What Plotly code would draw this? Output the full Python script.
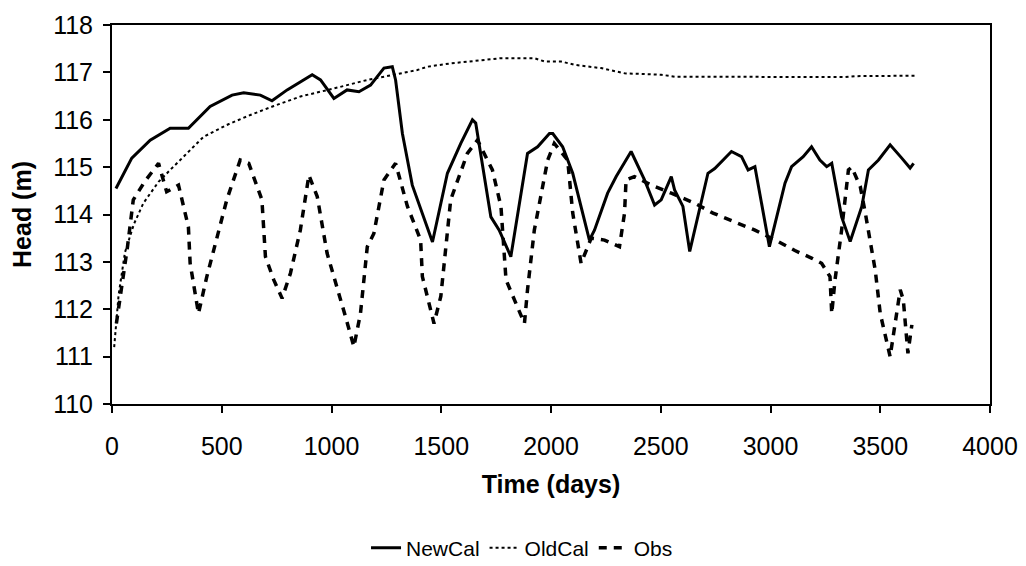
import plotly.graph_objects as go

# NewCal (solid)
new_days = [18, 90, 174, 265, 348, 447, 547, 600, 676, 729, 798, 912, 950, 1011, 1071, 1125, 1178, 1239, 1277,
            1292, 1323, 1368, 1460, 1528, 1589, 1642, 1657, 1726, 1764, 1817, 1893, 1939, 1993, 2008, 2053, 2099,
            2175, 2198, 2258, 2297, 2365, 2426, 2472, 2502, 2548, 2563, 2601, 2632, 2715, 2746, 2822, 2868, 2898,
            2929, 2995, 3066, 3096, 3149, 3187, 3225, 3256, 3279, 3324, 3363, 3416, 3446, 3492, 3545, 3598, 3636, 3652]
new_head = [114.55, 115.19, 115.57, 115.82, 115.82, 116.28, 116.52, 116.57, 116.52, 116.40, 116.63, 116.95, 116.84,
            116.45, 116.63, 116.59, 116.73, 117.09, 117.12, 116.84, 115.71, 114.62, 113.42, 114.87, 115.50, 116.00,
            115.93, 113.95, 113.67, 113.11, 115.29, 115.43, 115.71, 115.71, 115.43, 114.87, 113.46, 113.67, 114.45,
            114.80, 115.33, 114.73, 114.20, 114.31, 114.80, 114.52, 114.17, 113.22, 114.87, 114.97, 115.33, 115.22,
            114.94, 115.01, 113.32, 114.66, 115.01, 115.22, 115.43, 115.15, 115.01, 115.08, 113.95, 113.43, 114.17,
            114.94, 115.15, 115.47, 115.19, 114.98, 115.08]

# OldCal (dotted)
old_days = [10, 30, 59, 100, 143, 212, 265, 356, 417, 523, 630, 737, 858, 1011, 1163, 1285, 1391, 1437, 1543,
            1650, 1772, 1924, 1970, 2046, 2107, 2228, 2335, 2502, 2563, 3340, 3385, 3659]
old_head = [111.2, 112.3, 113.2, 113.8, 114.24, 114.69, 114.94, 115.36, 115.64, 115.89, 116.10, 116.29, 116.49,
            116.66, 116.84, 116.95, 117.05, 117.12, 117.19, 117.24, 117.30, 117.30, 117.23, 117.23, 117.16, 117.09,
            116.98, 116.95, 116.91, 116.90, 116.92, 116.93]

# Obs (dashed)
obs_days = [20, 40, 70, 97, 150, 212, 249, 303, 348, 356, 394, 432, 478, 523, 584, 623, 683, 699, 737, 775, 813,
            858, 897, 935, 980, 1026, 1064, 1102, 1132, 1163, 1193, 1239, 1292, 1346, 1406, 1414, 1467, 1498, 1543,
            1619, 1665, 1733, 1772, 1795, 1833, 1879, 1893, 1924, 1985, 2015, 2076, 2091, 2099, 2137, 2167, 2183,
            2244, 2312, 2335, 2342, 2380, 2457, 2548, 2654, 2738, 2822, 2929, 3035, 3111, 3187, 3233, 3271, 3279,
            3294, 3309, 3324, 3355, 3370, 3409, 3432, 3477, 3500, 3545, 3568, 3591, 3605, 3626, 3644]
obs_head = [111.7, 112.3, 113.3, 114.31, 114.7, 115.08, 114.48, 114.62, 113.74, 112.97, 111.91, 112.69, 113.53,
            114.31, 115.15, 115.08, 114.31, 113.11, 112.62, 112.23, 112.76, 113.67, 114.83, 114.38, 113.18, 112.48,
            111.84, 111.21, 111.91, 113.32, 113.60, 114.73, 115.08, 114.17, 113.46, 112.69, 111.70, 112.27, 114.31,
            115.29, 115.57, 114.94, 114.17, 112.62, 112.20, 111.70, 112.41, 113.67, 115.15, 115.50, 115.15, 114.45,
            114.03, 112.97, 113.32, 113.50, 113.46, 113.32, 114.03, 114.73, 114.80, 114.62, 114.45, 114.24, 114.03,
            113.88, 113.67, 113.43, 113.24, 113.08, 112.97, 112.69, 111.91, 112.62, 113.11, 113.67, 114.94, 115.00,
            114.59, 114.03, 112.83, 111.91, 111.00, 111.70, 112.41, 112.2, 111.07, 111.67]

x_ticks = [0, 500, 1000, 1500, 2000, 2500, 3000, 3500, 4000]
y_ticks = [110, 111, 112, 113, 114, 115, 116, 117, 118]

fig = go.Figure()
fig.add_trace(go.Scatter(x=new_days, y=new_head, mode="lines", name="NewCal",
                         line=dict(color="black", width=3)))
fig.add_trace(go.Scatter(x=old_days, y=old_head, mode="lines", name="OldCal",
                         line=dict(color="black", width=2, dash="dot")))
fig.add_trace(go.Scatter(x=obs_days, y=obs_head, mode="lines", name="Obs",
                         line=dict(color="black", width=3.5, dash="8px,7px")))

font = "Arial, 'Liberation Sans', sans-serif"
fig.update_layout(
    width=1018, height=558,
    margin=dict(l=104, r=36, t=17, b=162, autoexpand=False),
    paper_bgcolor="white", plot_bgcolor="white",
    font=dict(family=font, size=25, color="black"),
    showlegend=True,
    legend=dict(orientation="h", x=0.467, xanchor="center", xref="paper",
                y=0.032, yanchor="middle", yref="container",
                font=dict(size=21), tracegroupgap=0),
    xaxis=dict(range=[0, 4000], tickvals=x_ticks, ticks="outside", ticklen=7, tickwidth=1.5,
               tickcolor="black", showline=True, linecolor="black", linewidth=2, mirror=True,
               showgrid=False, zeroline=False, tickfont=dict(size=25), ticklabelstandoff=12,
               automargin=False,
               title=dict(text="<b>Time (days)</b>", font=dict(size=25), standoff=16)),
    yaxis=dict(range=[110, 118], tickvals=y_ticks, ticks="outside", ticklen=7, tickwidth=1.5,
               tickcolor="black", showline=True, linecolor="black", linewidth=2, mirror=True,
               showgrid=False, zeroline=False, tickfont=dict(size=25), ticklabelstandoff=5,
               automargin=False,
               title=dict(text="<b>Head (m)</b>", font=dict(size=25), standoff=14)),
)

fig.write_html("out.html")
